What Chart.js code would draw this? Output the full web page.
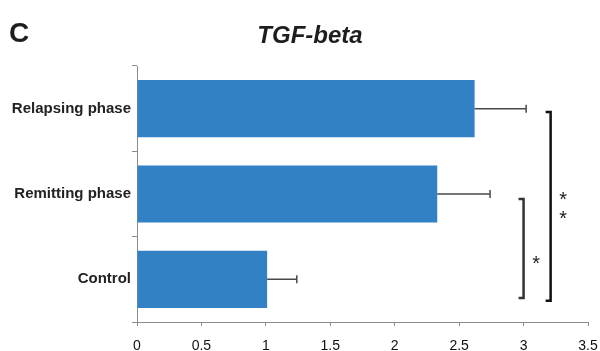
<!DOCTYPE html>
<html>
<head>
<meta charset="utf-8">
<script src="https://cdn.jsdelivr.net/npm/chart.js@4"></script>
<style>
  html, body { margin: 0; padding: 0; background: #fff; }
  #wrap { width: 600px; height: 351px; position: relative; }
</style>
</head>
<body>
<div id="wrap"><canvas id="c"></canvas></div>
<script>
// TGF-beta relative expression by group (mean with SD error bars)
const groups = ['Relapsing phase', 'Remitting phase', 'Control'];
const means = [2.62, 2.33, 1.01];
const errors = [0.40, 0.41, 0.23];
const xTicks = [0, 0.5, 1, 1.5, 2, 2.5, 3, 3.5];

// Significance brackets: x position (value units), y span (category index units), label
const bracketX = [3.0, 3.21];
const bracketFrom = [1.06, 0.04];
const bracketTo = [2.22, 2.25];
const bracketLabels = ['*', '*\n*'];

const barBlue = '#3181C4';

const errorBarPlugin = {
  id: 'errorBars',
  afterDatasetsDraw(chart) {
    const ctx = chart.ctx;
    const xs = chart.scales.x;
    const meta = chart.getDatasetMeta(0);
    ctx.save();
    ctx.strokeStyle = '#4a4a4a';
    ctx.lineWidth = 1.5;
    meta.data.forEach((bar, i) => {
      const x0 = xs.getPixelForValue(means[i]);
      const x1 = xs.getPixelForValue(means[i] + errors[i]);
      const y = bar.y;
      ctx.beginPath();
      ctx.moveTo(x0, y);
      ctx.lineTo(x1, y);
      ctx.moveTo(x1, y - 4);
      ctx.lineTo(x1, y + 4);
      ctx.stroke();
    });
    ctx.restore();
  }
};

const bracketPlugin = {
  id: 'brackets',
  afterDraw(chart) {
    const ctx = chart.ctx;
    const xs = chart.scales.x;
    const ys = chart.scales.y;
    ctx.save();
    bracketX.forEach((bx, i) => {
      const x = xs.getPixelForValue(bx);
      const y0 = ys.getPixelForValue(bracketFrom[i]);
      const y1 = ys.getPixelForValue(bracketTo[i]);
      ctx.strokeStyle = i === 0 ? '#333333' : '#111111';
      ctx.lineWidth = 2.5;
      ctx.beginPath();
      ctx.moveTo(x - 5, y0);
      ctx.lineTo(x, y0);
      ctx.lineTo(x, y1);
      ctx.lineTo(x - 5, y1);
      ctx.stroke();
      // asterisk label to the right of the bracket
      ctx.fillStyle = '#222';
      ctx.font = '20px "Liberation Sans", Arial, sans-serif';
      ctx.textAlign = 'center';
      ctx.textBaseline = 'middle';
      const lines = bracketLabels[i].split('\n');
      const mid = (y0 + y1) / 2 + (i === 0 ? 12 : 0);
      const lh = 19;
      lines.forEach((t, k) => {
        ctx.fillText(t, x + 12.5, mid + 4 + (k - (lines.length - 1) / 2) * lh);
      });
    });
    ctx.restore();
  }
};

const headingPlugin = {
  id: 'heading',
  afterDraw(chart) {
    const ctx = chart.ctx;
    ctx.save();
    ctx.fillStyle = '#1e1e1e';
    ctx.textBaseline = 'alphabetic';
    ctx.textAlign = 'left';
    ctx.font = 'bold 28px "Liberation Sans", Arial, sans-serif';
    ctx.fillText('C', 9, 42);
    ctx.textAlign = 'center';
    ctx.font = 'italic bold 24px "Liberation Sans", Arial, sans-serif';
    ctx.fillText('TGF-beta', 310, 43);
    ctx.restore();
  }
};

new Chart(document.getElementById('c'), {
  type: 'bar',
  data: {
    labels: groups,
    datasets: [{
      data: means,
      backgroundColor: barBlue,
      borderWidth: 0,
      barPercentage: 0.67,
      categoryPercentage: 1.0
    }]
  },
  options: {
    indexAxis: 'y',
    responsive: true,
    maintainAspectRatio: false,
    animation: false,
    layout: { padding: { top: 66, right: 12, left: 0, bottom: 0 } },
    plugins: {
      legend: { display: false },
      title: { display: false },
      tooltip: { enabled: false }
    },
    scales: {
      x: {
        min: 0,
        max: 3.5,
        afterBuildTicks(scale) {
          scale.ticks = xTicks.map(v => ({ value: v }));
        },
        afterFit(scale) {
          scale.height = 29;
          scale.paddingRight = 0;
          scale.paddingLeft = 0;
        },
        border: { display: true, color: '#8c8c8c', width: 1 },
        grid: { drawOnChartArea: false, drawTicks: true, tickLength: 4, color: '#8c8c8c' },
        ticks: {
          color: '#111',
          padding: 12,
          maxRotation: 0,
          font: { family: '"Liberation Sans", Arial, sans-serif', size: 14 },
          callback: (v) => String(v)
        }
      },
      y: {
        afterFit(scale) {
          scale.width = 137;
          scale.paddingTop = 0;
          scale.paddingBottom = 0;
        },
        border: { display: true, color: '#8c8c8c', width: 1 },
        grid: { drawOnChartArea: false, drawTicks: true, tickLength: 5, color: '#8c8c8c', offset: true },
        ticks: {
          color: '#222',
          padding: 1,
          font: { family: '"Liberation Sans", Arial, sans-serif', size: 15, weight: 'bold' }
        }
      }
    }
  },
  plugins: [errorBarPlugin, bracketPlugin, headingPlugin]
});
</script>
</body>
</html>
